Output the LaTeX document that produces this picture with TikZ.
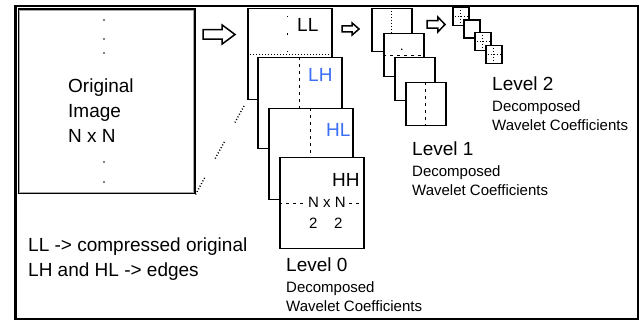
\documentclass[tikz,border=0pt]{standalone}
\usepackage{fontspec}
\setmainfont{Liberation Sans}
\usetikzlibrary{calc}
\definecolor{bandblue}{RGB}{60,110,245}
\tikzset{
  coefbox/.style={draw=black, fill=white, line width=1.5pt, anchor=north west, inner sep=0pt},
  bigtext/.style={font=\fontsize{19}{25}\selectfont, inner sep=0pt, anchor=base west},
  smalltext/.style={font=\fontsize{15}{19}\selectfont, inner sep=0pt, anchor=base west},
  halfline/.style={line width=1.3pt, dash pattern=on 3pt off 4pt},
  dotline/.style={line width=1.3pt, dash pattern=on 1pt off 2pt},
  sparsedots/.style={line width=1.4pt, dash pattern=on 1.4pt off 16pt, dash phase=-8pt},
  diagdots/.style={line width=1.4pt, dash pattern=on 1pt off 2pt on 1pt off 2pt on 1pt off 2pt on 1pt off 2pt on 1pt off 2pt on 1pt off 2pt on 1pt off 22pt},
  hollow/.style={draw=black, fill=white, line width=1.5pt, line join=miter}
}
% tail x, middle y, length, height
\newcommand{\hollowarrow}[4]{
  \draw[hollow] (#1,#2-#4/4) -- ++(0.6*#3,0) -- ++(0,-#4/4) -- (#1+#3,#2)
    -- (#1+0.6*#3,#2+#4/2) -- ++(0,-#4/4) -- (#1,#2+#4/4) -- cycle;
}
% name, base point, level
\newcommand{\levelnote}[3]{
  \node[bigtext] (#1) at #2 {Level #3};
  \node[smalltext] (#1a) at ($(#1.base west)+(0,21)$) {Decomposed};
  \node[smalltext] (#1b) at ($(#1.base west)+(0,40)$) {Wavelet Coefficients};
}

\begin{document}
\begin{tikzpicture}[x=1pt, y=-1pt]
  \useasboundingbox (0,0) rectangle (641,320);
  \draw[line width=2.5pt] (15.3,6) rectangle (638,318.8);

  % original image
  \node[coefbox, minimum width=176pt, minimum height=184.5pt] (orig) at (18,8.5) {};
  \draw[gray!70, line width=0.8pt] ($(orig.north west)+(1.8,1.8)$) rectangle ($(orig.south east)+(-1.8,-1.8)$);
  \foreach \y in {20,39,53,162,182}
    \fill (104,\y) circle (0.9);
  \node[bigtext] (origa) at (68,93) {Original};
  \node[bigtext] (origb) at (68,118) {Image};
  \node[bigtext] (origc) at (68,143) {N x N};

  \hollowarrow{203}{34.5}{32}{19}

  % level 0
  \node[coefbox, minimum width=84pt, minimum height=91pt] (ll) at (247,8) {};
  \draw[sparsedots] ($(ll.north)+(-2,0)$) -- ($(ll.center)+(-2,0)$);
  \draw[dotline] (ll.west) -- (ll.east);
  \node[bigtext] (lltxt) at (297,32) {LL};

  \node[coefbox, minimum width=84pt, minimum height=91pt] (lh) at (257,57) {};
  \draw[halfline] (lh.north) -- (lh.south);
  \node[bigtext, text=bandblue] (lhtxt) at (308,82) {LH};

  \node[coefbox, minimum width=84pt, minimum height=91pt] (hl) at (268,108) {};
  \draw[halfline] (hl.north) -- (hl.south);
  \node[bigtext, text=bandblue] (hltxt) at (326,137) {HL};

  \node[coefbox, minimum width=84pt, minimum height=91pt] (hh) at (279,157) {};
  \draw[halfline] (hh.west) -- (hh.east);
  \node[bigtext] (hhtxt) at (332,187) {HH};
  \node[smalltext, fill=white, inner xsep=2pt] (size) at (306,208) {N x N};
  \node[smalltext] (halfa) at (309,229) {2};
  \node[smalltext] (halfb) at (334,229) {2};

  \draw[diagdots] (orig.south east) -- (ll.south west);

  \hollowarrow{342}{29}{17}{12}

  % level 1
  \node[coefbox, minimum width=40pt, minimum height=43pt] (la) at (371,8) {};
  \draw[dotline] (la.north) -- (la.south);
  \node[coefbox, minimum width=40pt, minimum height=43pt] (lb) at (383,33) {};
  \draw[halfline] (lb.west) -- (lb.east);
  \fill ($(lb.center)+(-2,-6)$) circle (0.9);
  \node[coefbox, minimum width=40pt, minimum height=43pt] (lc) at (394,57) {};
  \node[coefbox, minimum width=40pt, minimum height=43pt] (ld) at (405,82) {};
  \draw[halfline] (ld.north) -- (ld.south);

  \hollowarrow{427}{24.5}{18}{15}

  % level 2
  \node[coefbox, minimum width=16pt, minimum height=18pt] (sa) at (452,7) {};
  \draw[dotline] (sa.north) -- (sa.south) (sa.west) -- (sa.east);
  \node[coefbox, minimum width=16pt, minimum height=18pt] (sb) at (463,19.5) {};
  \node[coefbox, minimum width=16pt, minimum height=18pt] (sc) at (474,32) {};
  \draw[dotline] (sc.north) -- (sc.south) (sc.west) -- (sc.east);
  \node[coefbox, minimum width=16pt, minimum height=18pt] (sd) at (485,45) {};
  \draw[dotline] (sd.north) -- (sd.south) (sd.west) -- (sd.east);

  \levelnote{lvzero}{(286,272)}{0}
  \levelnote{lvone}{(412,156)}{1}
  \levelnote{lvtwo}{(492,91)}{2}

  \node[bigtext] (notell) at (28,252) {LL -> compressed original};
  \node[bigtext] (notelh) at (28,277) {LH and HL -> edges};
\end{tikzpicture}
\end{document}
